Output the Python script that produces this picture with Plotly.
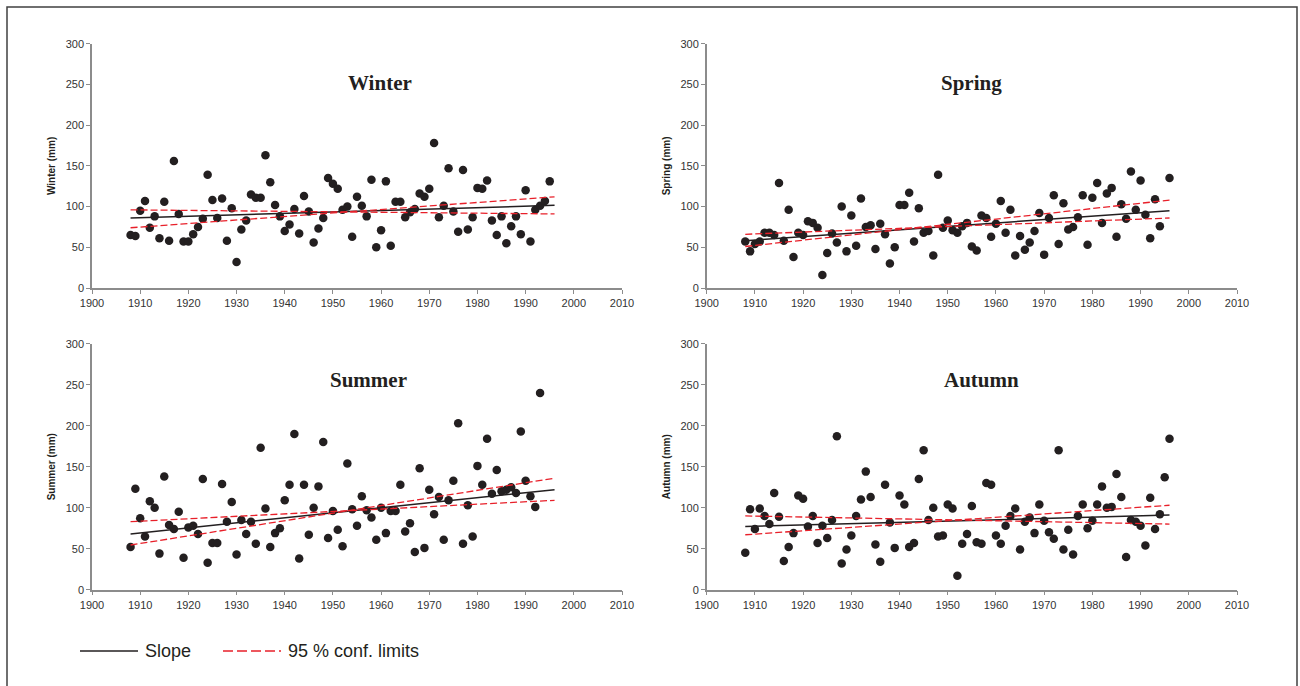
import plotly.graph_objects as go

W, H = 1300, 686

years = list(range(1908, 1997))

winter = [65, 64, 95, 107, 74, 88, 61, 106, 58, 156,
          91, 57, 57, 66, 75, 85, 139, 108, 86, 110,
          58, 98, 32, 72, 83, 115, 111, 111, 163, 130,
          102, 88, 70, 78, 97, 67, 113, 94, 56, 73,
          86, 135, 128, 122, 96, 100, 63, 112, 101, 88,
          133, 50, 71, 131, 52, 106, 106, 87, 93, 97,
          116, 112, 122, 178, 87, 101, 147, 94, 69, 145,
          72, 87, 123, 122, 132, 83, 65, 88, 55, 76,
          88, 66, 120, 57, 96, 101, 107, 131, None]

spring = [57, 45, 54, 57, 68, 68, 65, 129, 58, 96,
          38, 68, 65, 82, 80, 74, 16, 43, 67, 56,
          100, 45, 89, 52, 110, 75, 77, 48, 79, 66,
          30, 50, 102, 102, 117, 57, 98, 68, 70, 40,
          139, 74, 83, 71, 68, 76, 80, 51, 46, 89,
          86, 63, 79, 107, 68, 96, 40, 64, 47, 56,
          70, 92, 41, 86, 114, 54, 104, 72, 75, 87,
          114, 53, 111, 129, 80, 116, 123, 63, 103, 85,
          143, 96, 132, 90, 61, 109, 76, None, 135]

summer = [52, 123, 87, 65, 108, 100, 44, 138, 79, 74,
          95, 39, 76, 78, 68, 135, 33, 57, 57, 129,
          83, 107, 43, 85, 68, 83, 56, 173, 99, 52,
          69, 75, 109, 128, 190, 38, 128, 67, 100, 126,
          180, 63, 96, 73, 53, 154, 98, 78, 114, 97,
          88, 61, 100, 69, 96, 96, 128, 71, 81, 46,
          148, 51, 122, 92, 113, 61, 109, 133, 203, 56,
          103, 65, 151, 128, 184, 117, 146, 120, 122, 125,
          118, 193, 133, 114, 101, 240, None, None, None]

autumn = [45, 98, 74, 99, 90, 80, 118, 89, 35, 52,
          69, 115, 111, 77, 90, 57, 78, 63, 85, 187,
          32, 49, 66, 90, 110, 144, 113, 55, 34, 128,
          82, 51, 115, 104, 52, 57, 135, 170, 85, 100,
          65, 66, 104, 99, 17, 56, 68, 102, 58, 56,
          130, 128, 66, 56, 78, 90, 99, 49, 83, 88,
          69, 104, 84, 70, 62, 170, 49, 73, 43, 90,
          104, 75, 84, 104, 126, 100, 101, 141, 113, 40,
          85, 83, 78, 54, 112, 74, 92, 137, 184]

fit_years = [1908, 1996]
winter_slope = [86, 101.6]
winter_cl_a = [96, 91]
winter_cl_b = [74, 112]
spring_slope = [58, 95]
spring_cl_a = [66, 86]
spring_cl_b = [51, 108]
summer_slope = [68, 122]
summer_cl_a = [83, 109]
summer_cl_b = [54.5, 136]
autumn_slope = [77, 91]
autumn_cl_a = [90, 80]
autumn_cl_b = [67, 103]

seasons = ["Winter", "Spring", "Summer", "Autumn"]
values = [winter, spring, summer, autumn]
slopes = [winter_slope, spring_slope, summer_slope, autumn_slope]
cl_a = [winter_cl_a, spring_cl_a, summer_cl_a, autumn_cl_a]
cl_b = [winter_cl_b, spring_cl_b, summer_cl_b, autumn_cl_b]

DOT = "#231f20"
RED = "#e8202a"
AXC = "#8c8c8c"
TXT = "#333333"

# pixel layout of each panel: (x_left, x_right, y_top(300), y_bottom(0)), title pos
panels = [
    (92, 622, 43.8, 288.0, 380, 83),
    (706.7, 1237, 43.8, 288.0, 971, 83),
    (92, 622, 343.7, 589.7, 368, 380),
    (706.7, 1237, 343.7, 589.7, 981, 380),
]

fig = go.Figure()
layout = dict(
    width=W, height=H,
    margin=dict(l=0, r=0, t=0, b=0, pad=0, autoexpand=False),
    paper_bgcolor="white", plot_bgcolor="white",
    showlegend=False,
    font=dict(family="Arial, Liberation Sans, sans-serif", color=TXT),
)
annotations = []
shapes = []

for i, (name, vals, sl, ca, cb) in enumerate(zip(seasons, values, slopes, cl_a, cl_b)):
    xl, xr, yt, yb, tx, ty = panels[i]
    ax = "" if i == 0 else str(i + 1)
    xa, ya = "x" + ax, "y" + ax
    fig.add_trace(go.Scatter(x=years, y=vals, mode="markers", xaxis=xa, yaxis=ya,
                             marker=dict(size=8.5, color=DOT), name=name))
    fig.add_trace(go.Scatter(x=fit_years, y=sl, mode="lines", xaxis=xa, yaxis=ya,
                             line=dict(color=DOT, width=1.5), name="Slope"))
    for cl in (ca, cb):
        fig.add_trace(go.Scatter(x=fit_years, y=cl, mode="lines", xaxis=xa, yaxis=ya,
                                 line=dict(color=RED, width=1.3, dash="7px,3px"),
                                 name="95 % conf. limits"))
    common = dict(showline=True, linecolor=AXC, linewidth=1.5, ticks="outside",
                  ticklen=4, tickcolor=AXC, tickwidth=1, showgrid=False, zeroline=False,
                  automargin=False,
                  tickfont=dict(family="Arial, Liberation Sans, sans-serif", size=11, color=TXT))
    layout["xaxis" + ax] = dict(domain=[xl / W, xr / W], range=[1900, 2010], dtick=10,
                                tick0=1900, anchor=ya, **common)
    layout["yaxis" + ax] = dict(domain=[(H - yb) / H, (H - yt) / H], range=[0, 300], dtick=50,
                                anchor=xa, title=dict(text=f"<b>{name} (mm)</b>", standoff=8,
                                font=dict(size=10, color=DOT)), **common)
    annotations.append(dict(text=f"<b>{name}</b>", x=tx / W, y=(H - ty) / H, xref="paper",
                            yref="paper", showarrow=False, xanchor="center", yanchor="middle",
                            font=dict(family="Liberation Serif, Times New Roman, serif",
                                      size=21, color=DOT)))

# legend (drawn manually)
ly = (H - 651) / H
shapes.append(dict(type="line", xref="paper", yref="paper", x0=80 / W, x1=138 / W,
                   y0=ly, y1=ly, line=dict(color=DOT, width=1.3)))
shapes.append(dict(type="line", xref="paper", yref="paper", x0=223 / W, x1=281 / W,
                   y0=ly, y1=ly, line=dict(color=RED, width=1.5, dash="10px,4px")))
annotations.append(dict(text="Slope", x=143 / W, y=ly, xref="paper", yref="paper",
                        showarrow=False, xanchor="left", yanchor="middle",
                        font=dict(size=18, color=DOT)))
annotations.append(dict(text="95 % conf. limits", x=286 / W, y=ly, xref="paper", yref="paper",
                        showarrow=False, xanchor="left", yanchor="middle",
                        font=dict(size=18, color=DOT)))
# outer frame
shapes.append(dict(type="rect", xref="paper", yref="paper", x0=7 / W, x1=1297 / W,
                   y0=-0.05, y1=(H - 7) / H, line=dict(color="#404040", width=1.5)))

layout["annotations"] = annotations
layout["shapes"] = shapes
fig.update_layout(**layout)
fig.write_html("out.html")
